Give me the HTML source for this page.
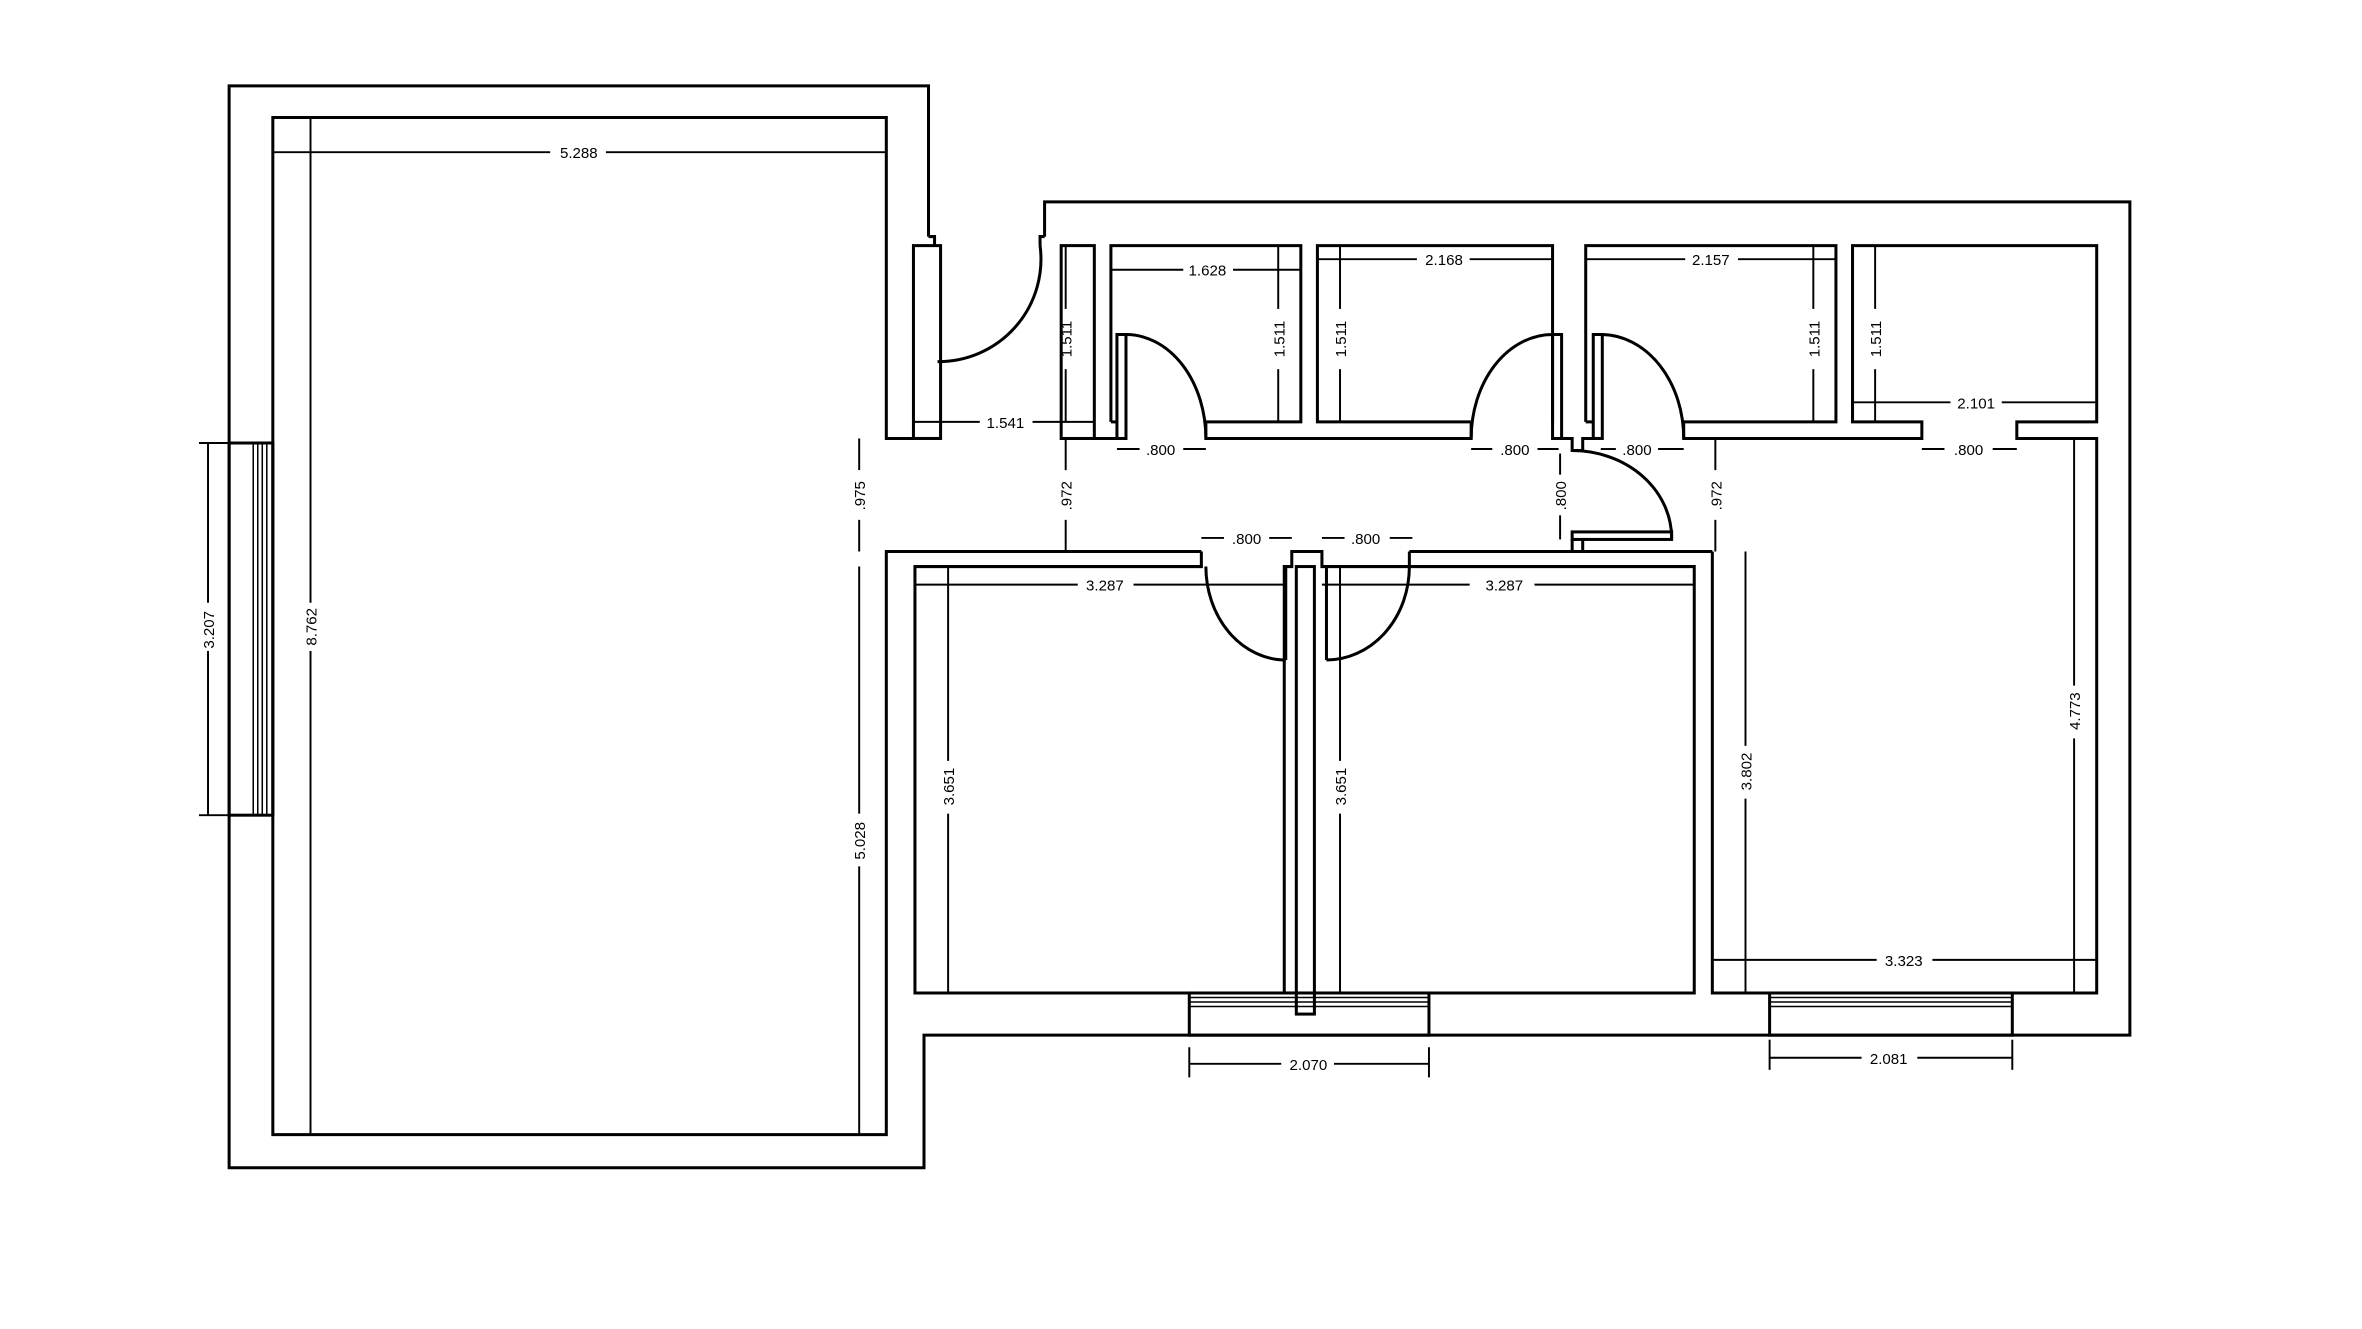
<!DOCTYPE html>
<html><head><meta charset="utf-8"><style>
html,body{margin:0;padding:0;background:#fff;}
svg{display:block}
text{font-family:"Liberation Sans",sans-serif;font-size:10px;fill:#000}
</style></head><body>
<svg width="2362" height="1329" viewBox="0 0 1567 882" preserveAspectRatio="none" xmlns="http://www.w3.org/2000/svg">
<g fill="none" stroke="#000" stroke-width="2">
<polyline points="616,157 616,57 152,57 152,775 613,775 613,687 1413,687 1413,134 693,134 693,157"/>
<polyline points="606,291 588,291 588,78 181,78 181,753 588,753 588,366 797,366"/>
<rect x="606" y="163" width="18" height="128"/>
<path d="M622,240 A68,68 0 0 0 690,163"/>
<polyline points="690,163 690,157 693,157"/>
<polyline points="616,157 620,157 620,163"/>
<rect x="704" y="163" width="22" height="128"/>
<polyline points="704,291 741,291"/>
<polyline points="737,280 737,163 863,163 863,280 800,280 800,291 976,291 976,280 874,280 874,163 1030,163 1030,280"/>
<polyline points="737,280 741,280"/>
<rect x="741" y="222" width="6" height="69"/>
<path d="M747,222 A53,69 0 0 1 800,291"/>
<rect x="1030" y="222" width="6" height="69"/>
<path d="M1030,222 A54,69 0 0 0 976,291"/>
<polyline points="1036,291 1043,291 1043,299 1050,299 1050,291 1057,291"/>
<rect x="1057" y="222" width="6" height="69"/>
<path d="M1063,222 A55,69 0 0 1 1117,291"/>
<polyline points="1052,280 1052,163 1218,163 1218,280 1117,280 1117,291 1275,291 1275,280 1229,280 1229,163 1391,163 1391,280 1338,280 1338,291 1391,291 1391,659 1136,659 1136,366"/>
<polyline points="1052,280 1057,280"/>
<path d="M1043,299 A66,58 0 0 1 1109,357"/>
<rect x="1043" y="353" width="66" height="5"/>
<polyline points="1043,358 1043,366 1050,366 1050,358"/>
<polyline points="1050,366 1136,366"/>
<polyline points="935,366 1043,366"/>
<polyline points="797,366 797,376 607,376 607,659 852,659 852,376 857,376 857,366 877,366 877,376 1124,376 1124,659 877,659"/>
<polyline points="935,366 935,376"/>
<rect x="860" y="376" width="12" height="297"/>
<path d="M800,376 A53,62 0 0 0 853,438"/>
<path d="M935,376 A55,62 0 0 1 880,438"/>
<line x1="853" y1="376" x2="853" y2="438"/>
<line x1="880" y1="376" x2="880" y2="438"/>
<line x1="852" y1="659" x2="860" y2="659"/>
</g>
<g stroke="#000" stroke-width="1" fill="none">
<rect x="152" y="294" width="29" height="247" stroke-width="2"/>
<line x1="168" y1="294" x2="168" y2="541"/><line x1="171" y1="294" x2="171" y2="541"/><line x1="174" y1="294" x2="174" y2="541"/><line x1="177" y1="294" x2="177" y2="541"/>
<rect x="789" y="659" width="159" height="28" stroke-width="2"/>
<line x1="789" y1="662" x2="948" y2="662"/><line x1="789" y1="665" x2="948" y2="665"/><line x1="789" y1="668" x2="948" y2="668"/>
<rect x="1174" y="659" width="161" height="28" stroke-width="2"/>
<line x1="1174" y1="662" x2="1335" y2="662"/><line x1="1174" y1="665" x2="1335" y2="665"/><line x1="1174" y1="668" x2="1335" y2="668"/>
</g>
<g stroke="#000" stroke-width="1.3">
<line x1="181" y1="101" x2="365" y2="101"/><line x1="402" y1="101" x2="588" y2="101"/>
<line x1="206" y1="78" x2="206" y2="400"/><line x1="206" y1="432" x2="206" y2="753"/>
<line x1="138" y1="294" x2="138" y2="400"/><line x1="138" y1="432" x2="138" y2="541"/><line x1="132" y1="294" x2="152" y2="294"/><line x1="132" y1="541" x2="152" y2="541"/>
<line x1="570" y1="291" x2="570" y2="312"/><line x1="570" y1="345" x2="570" y2="366"/>
<line x1="570" y1="376" x2="570" y2="540"/><line x1="570" y1="575" x2="570" y2="753"/>
<line x1="606" y1="280" x2="650" y2="280"/><line x1="685" y1="280" x2="726" y2="280"/>
<line x1="707" y1="163" x2="707" y2="205"/><line x1="707" y1="245" x2="707" y2="280"/>
<line x1="707" y1="291" x2="707" y2="312"/><line x1="707" y1="345" x2="707" y2="366"/>
<line x1="737" y1="179" x2="785" y2="179"/><line x1="818" y1="179" x2="863" y2="179"/>
<line x1="848" y1="163" x2="848" y2="205"/><line x1="848" y1="245" x2="848" y2="280"/>
<line x1="889" y1="163" x2="889" y2="205"/><line x1="889" y1="245" x2="889" y2="280"/>
<line x1="874" y1="172" x2="940" y2="172"/><line x1="975" y1="172" x2="1030" y2="172"/>
<line x1="1052" y1="172" x2="1118" y2="172"/><line x1="1153" y1="172" x2="1218" y2="172"/>
<line x1="1203" y1="163" x2="1203" y2="205"/><line x1="1203" y1="245" x2="1203" y2="280"/>
<line x1="1244" y1="163" x2="1244" y2="205"/><line x1="1244" y1="245" x2="1244" y2="280"/>
<line x1="1229" y1="267" x2="1294" y2="267"/><line x1="1328" y1="267" x2="1391" y2="267"/>
<line x1="741" y1="298" x2="756" y2="298"/><line x1="785" y1="298" x2="800" y2="298"/>
<line x1="976" y1="298" x2="990" y2="298"/><line x1="1020" y1="298" x2="1034" y2="298"/>
<line x1="1062" y1="298" x2="1072" y2="298"/><line x1="1100" y1="298" x2="1117" y2="298"/>
<line x1="1275" y1="298" x2="1290" y2="298"/><line x1="1322" y1="298" x2="1338" y2="298"/>
<line x1="1035" y1="301" x2="1035" y2="315"/><line x1="1035" y1="342" x2="1035" y2="358"/>
<line x1="1138" y1="291" x2="1138" y2="312"/><line x1="1138" y1="345" x2="1138" y2="366"/>
<line x1="797" y1="357" x2="812" y2="357"/><line x1="842" y1="357" x2="857" y2="357"/>
<line x1="877" y1="357" x2="892" y2="357"/><line x1="922" y1="357" x2="937" y2="357"/>
<line x1="607" y1="388" x2="715" y2="388"/><line x1="752" y1="388" x2="852" y2="388"/>
<line x1="877" y1="388" x2="975" y2="388"/><line x1="1018" y1="388" x2="1124" y2="388"/>
<line x1="629" y1="376" x2="629" y2="505"/><line x1="629" y1="540" x2="629" y2="659"/>
<line x1="889" y1="376" x2="889" y2="505"/><line x1="889" y1="540" x2="889" y2="659"/>
<line x1="1158" y1="366" x2="1158" y2="495"/><line x1="1158" y1="530" x2="1158" y2="659"/>
<line x1="1376" y1="291" x2="1376" y2="455"/><line x1="1376" y1="490" x2="1376" y2="659"/>
<line x1="1136" y1="637" x2="1245" y2="637"/><line x1="1282" y1="637" x2="1391" y2="637"/>
<line x1="789" y1="706" x2="850" y2="706"/><line x1="885" y1="706" x2="948" y2="706"/><line x1="789" y1="695" x2="789" y2="715"/><line x1="948" y1="695" x2="948" y2="715"/>
<line x1="1174" y1="702" x2="1235" y2="702"/><line x1="1272" y1="702" x2="1335" y2="702"/><line x1="1174" y1="690" x2="1174" y2="710"/><line x1="1335" y1="690" x2="1335" y2="710"/>
</g>
<text x="384" y="105" text-anchor="middle">5.288</text>
<text transform="translate(210,416) rotate(-90)" text-anchor="middle">8.762</text>
<text transform="translate(142,418) rotate(-90)" text-anchor="middle">3.207</text>
<text transform="translate(574,329) rotate(-90)" text-anchor="middle">.975</text>
<text transform="translate(574,558) rotate(-90)" text-anchor="middle">5.028</text>
<text x="667" y="284" text-anchor="middle">1.541</text>
<text transform="translate(711,225) rotate(-90)" text-anchor="middle">1.511</text>
<text transform="translate(711,329) rotate(-90)" text-anchor="middle">.972</text>
<text x="801" y="183" text-anchor="middle">1.628</text>
<text transform="translate(852,225) rotate(-90)" text-anchor="middle">1.511</text>
<text transform="translate(893,225) rotate(-90)" text-anchor="middle">1.511</text>
<text x="958" y="176" text-anchor="middle">2.168</text>
<text x="1135" y="176" text-anchor="middle">2.157</text>
<text transform="translate(1207,225) rotate(-90)" text-anchor="middle">1.511</text>
<text transform="translate(1248,225) rotate(-90)" text-anchor="middle">1.511</text>
<text x="1311" y="271" text-anchor="middle">2.101</text>
<text x="770" y="302" text-anchor="middle">.800</text>
<text x="1005" y="302" text-anchor="middle">.800</text>
<text x="1086" y="302" text-anchor="middle">.800</text>
<text x="1306" y="302" text-anchor="middle">.800</text>
<text transform="translate(1039,329) rotate(-90)" text-anchor="middle">.800</text>
<text transform="translate(1142,329) rotate(-90)" text-anchor="middle">.972</text>
<text x="827" y="361" text-anchor="middle">.800</text>
<text x="906" y="361" text-anchor="middle">.800</text>
<text x="733" y="392" text-anchor="middle">3.287</text>
<text x="998" y="392" text-anchor="middle">3.287</text>
<text transform="translate(633,522) rotate(-90)" text-anchor="middle">3.651</text>
<text transform="translate(893,522) rotate(-90)" text-anchor="middle">3.651</text>
<text transform="translate(1162,512) rotate(-90)" text-anchor="middle">3.802</text>
<text transform="translate(1380,472) rotate(-90)" text-anchor="middle">4.773</text>
<text x="1263" y="641" text-anchor="middle">3.323</text>
<text x="868" y="710" text-anchor="middle">2.070</text>
<text x="1253" y="706" text-anchor="middle">2.081</text>
</svg>
</body></html>
